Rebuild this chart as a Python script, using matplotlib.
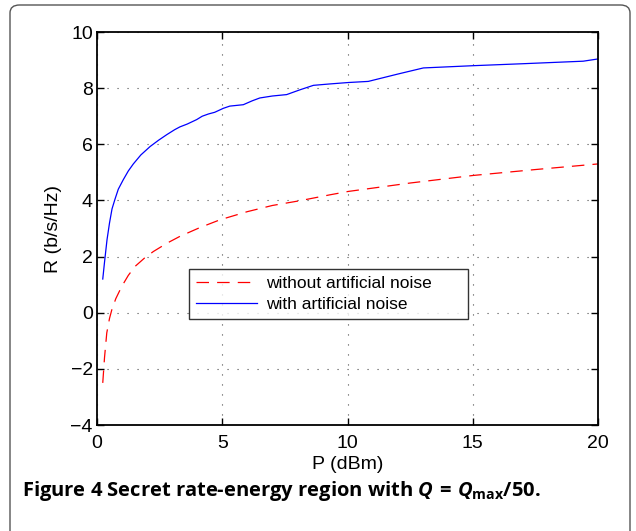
import matplotlib
matplotlib.use("Agg")
import matplotlib.pyplot as plt
from matplotlib.patches import FancyBboxPatch

plt.rcParams['font.family'] = ['Liberation Sans', 'DejaVu Sans']
plt.rcParams['mathtext.fontset'] = 'custom'
plt.rcParams['mathtext.it'] = 'Open Sans:italic:bold'
plt.rcParams['mathtext.bf'] = 'Open Sans:bold'
plt.rcParams['mathtext.rm'] = 'Open Sans:bold'

# Data
p_with = [0.23, 0.30, 0.40, 0.50, 0.60, 0.72, 0.85, 1.05, 1.25, 1.45, 1.75, 2.12,
          2.45, 2.78, 3.10, 3.31, 3.60, 3.98, 4.20, 4.45, 4.70, 5.04, 5.30, 5.84,
          6.20, 6.50, 7.00, 7.57, 8.10, 8.64, 9.30, 10.03, 10.83, 12.0, 13.03,
          15.02, 17.0, 19.41, 20.0]
r_with = [1.2, 1.8, 2.6, 3.2, 3.7, 4.05, 4.4, 4.74, 5.05, 5.3, 5.62, 5.92,
          6.14, 6.34, 6.52, 6.62, 6.72, 6.88, 7.0, 7.08, 7.14, 7.28, 7.36, 7.41,
          7.55, 7.65, 7.72, 7.77, 7.94, 8.10, 8.15, 8.20, 8.24, 8.5, 8.72,
          8.80, 8.87, 8.96, 9.04]

p_without = [0.23, 0.30, 0.39, 0.50, 0.59, 0.75, 0.99, 1.25, 1.52, 1.90, 2.25,
             2.80, 3.31, 4.10, 4.91, 6.0, 7.0, 8.1, 9.3, 10.03, 12.5, 15.02,
             17.5, 20.0]
r_without = [-2.5, -1.6, -0.72, -0.2, 0.1, 0.5, 0.94, 1.33, 1.65, 1.95, 2.18,
             2.48, 2.72, 3.03, 3.31, 3.6, 3.82, 3.99, 4.2, 4.32, 4.62, 4.89,
             5.1, 5.30]

x_ticks = [0, 5, 10, 15, 20]
y_ticks = [-4, -2, 0, 2, 4, 6, 8, 10]

fig = plt.figure(figsize=(6.36, 5.31), dpi=100)

# frame around the figure
frame = FancyBboxPatch((10/636, -0.05), 620/636, 1 - 5/531 + 0.05,
                       boxstyle="round,pad=0,rounding_size=0.015",
                       transform=fig.transFigure, fill=False,
                       edgecolor='#555555', linewidth=1.0)
fig.patches.append(frame)

ax = fig.add_axes([97/636, 1 - 425/531, (598-97)/636, (425-32)/531])
ax.plot(p_without, r_without, color='red', linestyle=(0, (10, 6.5)), linewidth=0.9,
        label='without artificial noise')
ax.plot(p_with, r_with, color='blue', linestyle='-', linewidth=0.9,
        label='with artificial noise')

ax.set_xlim(0, 20)
ax.set_ylim(-4, 10)
ax.set_xticks(x_ticks)
ax.set_yticks(y_ticks)
ax.set_yticklabels([str(v).replace('-', '\u2212') for v in y_ticks])
ax.tick_params(direction='in', length=5, width=1, top=True, right=True,
               labelsize=14, colors='black')
ax.tick_params(axis='x', pad=7)
ax.tick_params(axis='y', pad=3)
ax.grid(True, linestyle=(0, (1, 8)), color='0.3', linewidth=0.8)
for s in ax.spines.values():
    s.set_linewidth(1.3)

ax.set_xlabel('P (dBm)', fontsize=14, labelpad=3)
ax.set_ylabel('R (b/s/Hz)', fontsize=14, labelpad=6)

leg = ax.legend(loc='lower left', bbox_to_anchor=(0.184, 0.27, 0.556, 0.163),
                mode='expand', fontsize=12.5, frameon=True, fancybox=False,
                edgecolor='black', handlelength=3.5, borderpad=0.4,
                labelspacing=0.35, borderaxespad=0, handletextpad=0.5)
leg.get_frame().set_linewidth(1.0)

fig.text(22/636, 1 - 491/531,
         r'Figure 4 Secret rate-energy region with $Q\,=\,Q_{\mathrm{max}}/50$.',
         fontsize=14.5, fontweight='bold', family=['Open Sans', 'DejaVu Sans'],
         va='center', ha='left')

fig.savefig('out.png', dpi=100)
